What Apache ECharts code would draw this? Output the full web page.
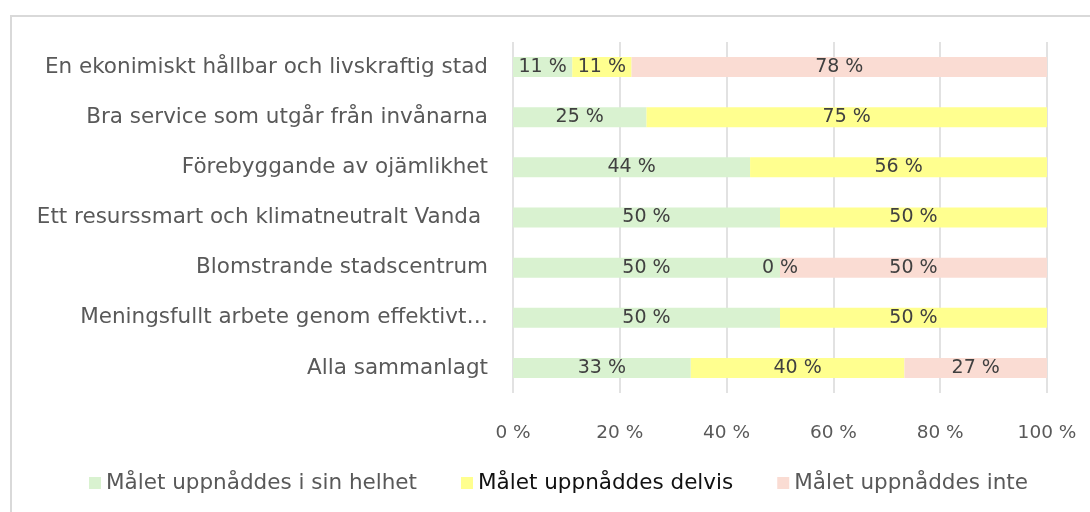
<!DOCTYPE html>
<html>
<head>
<meta charset="utf-8">
<script src="https://cdn.jsdelivr.net/npm/echarts@6/dist/echarts.min.js"></script>
<style>html,body{margin:0;padding:0;background:#fff;}#c{width:1090px;height:512px;}</style>
</head>
<body>
<div id="c"></div>
<script>
const categories = [
  "En ekonimiskt hållbar och livskraftig stad",
  "Bra service som utgår från invånarna",
  "Förebyggande av ojämlikhet",
  "Ett resurssmart och klimatneutralt Vanda ",
  "Blomstrande stadscentrum",
  "Meningsfullt arbete genom effektivt…",
  "Alla sammanlagt"
];
const seriesNames = ["Målet uppnåddes i sin helhet", "Målet uppnåddes delvis", "Målet uppnåddes inte"];
const fullyReached = [11.1, 25, 44.4, 50, 50, 50, 33.3];
const partlyReached = [11.1, 75, 55.6, 50, 0, 50, 40];
const notReached = [77.8, null, null, null, 50, null, 26.7];
const xTicks = [0, 20, 40, 60, 80, 100];

const FONT = "DejaVu Sans";
const colors = ["#d9f2d0", "#ffff8f", "#fadcd3"];
const chart = echarts.init(document.getElementById('c'));
const lbl = {
  show: true, position: 'inside', color: '#404040', fontSize: 19, fontFamily: FONT,
  formatter: p => (p.value === null || p.value === undefined) ? '' : Math.round(p.value) + ' %'
};
function mk(name, data, color) {
  return { name, type: 'bar', stack: 'all', data, barWidth: 20, itemStyle: { color }, label: lbl, emphasis: { disabled: true } };
}
chart.setOption({
  animation: false,
  textStyle: { fontFamily: FONT },
  graphic: [{ type: 'rect', shape: { x: 11, y: 16, width: 1100, height: 520 }, style: { fill: 'none', stroke: '#d9d9d9', lineWidth: 2 }, silent: true }],
  grid: { left: 513, right: 43, top: 42, bottom: 119, containLabel: false },
  xAxis: {
    type: 'value', min: xTicks[0], max: xTicks[xTicks.length - 1], interval: 20,
    axisLine: { show: false }, axisTick: { show: false },
    splitLine: { lineStyle: { color: '#d9d9d9', width: 1.5 } },
    axisLabel: { formatter: '{value} %', color: '#595959', fontSize: 18.5, fontFamily: FONT, margin: 31 }
  },
  yAxis: {
    type: 'category', data: categories, inverse: true,
    axisLine: { show: false }, axisTick: { show: false },
    axisLabel: { color: '#595959', fontSize: 21.5, fontFamily: FONT, margin: 25 }
  },
  legend: {
    left: 84, top: 467, itemWidth: 12, itemHeight: 12, itemGap: 44, icon: 'rect',
    textStyle: { fontSize: 21.5, fontFamily: FONT, color: '#595959' },
    data: [
      { name: seriesNames[0] },
      { name: seriesNames[1], textStyle: { color: '#111111' } },
      { name: seriesNames[2] }
    ]
  },
  series: [
    mk(seriesNames[0], fullyReached, colors[0]),
    mk(seriesNames[1], partlyReached, colors[1]),
    mk(seriesNames[2], notReached, colors[2])
  ]
});
</script>
</body>
</html>
